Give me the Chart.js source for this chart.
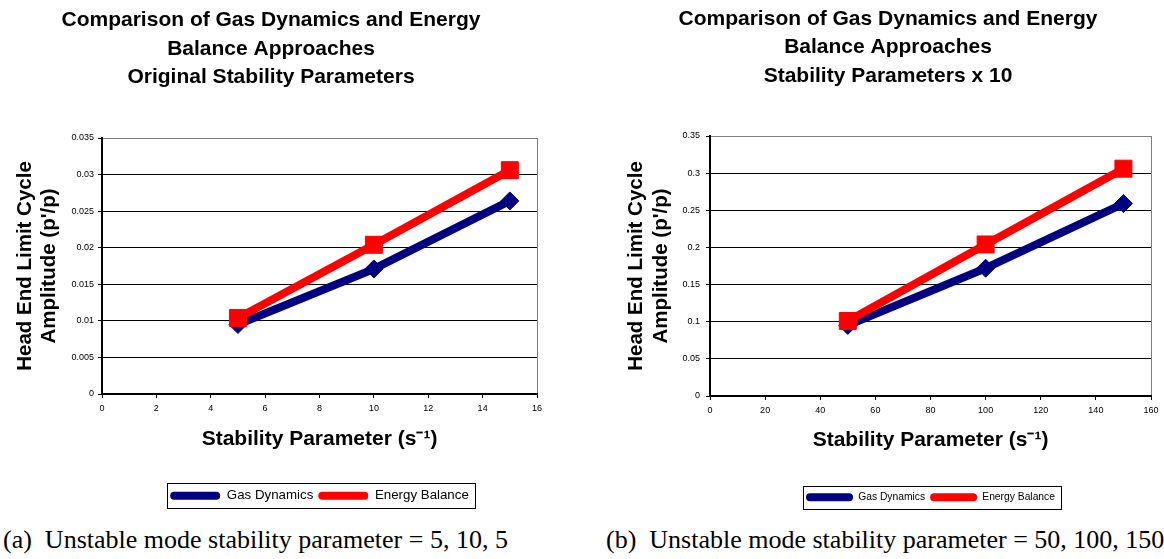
<!DOCTYPE html>
<html>
<head>
<meta charset="utf-8">
<script src="https://cdn.jsdelivr.net/npm/chart.js@4.4.0/dist/chart.umd.min.js"></script>
<style>
  body { margin: 0; background: #fff; width: 1164px; height: 559px; position: relative; overflow: hidden; }
  canvas { position: absolute; top: 0; }
  #chartA { left: 0; }
  #chartB { left: 624px; }
  .caption { position: absolute; top: 525px; font-family: "Liberation Serif", "Times New Roman", serif; font-size: 26px; line-height: 30px; color: #000; white-space: pre; }
</style>
</head>
<body>
<canvas id="chartA" width="550" height="520"></canvas>
<canvas id="chartB" width="540" height="520"></canvas>
<div class="caption" style="left:3px">(a)  Unstable mode stability parameter = 5, 10, 5</div>
<div class="caption" style="left:606px">(b)  Unstable mode stability parameter = 50, 100, 150</div>
<script>
// Original stability parameters
const origParams = [5, 10, 15];
const origGas = [0.0095, 0.0171, 0.0264];
const origEnergy = [0.0104, 0.0204, 0.0306];

// Stability parameters x 10
const scaledParams = [50, 100, 150];
const scaledGas = [0.095, 0.172, 0.259];
const scaledEnergy = [0.101, 0.204, 0.306];

const seriesNames = ["Gas Dynamics", "Energy Balance"];
const yTitle = ["Head End Limit Cycle", "Amplitude (p'/p)"];
const xTitle = "Stability Parameter (s\u207B\u00B9)";

Chart.defaults.font.family = "'Liberation Sans', Arial, sans-serif";
Chart.defaults.color = "#000";

// Excel style labels: no trailing zeros
const plainNumber = v => String(parseFloat(Number(v).toFixed(6)));

// box drawn round the legend, like the Excel legend frame
const legendFrame = {
  id: "legendFrame",
  afterDraw(chart, args, opts) {
    const boxes = chart.legend.legendHitBoxes;
    if (!boxes || !boxes.length) return;
    const left = Math.min(...boxes.map(b => b.left)) - 3;
    const right = Math.max(...boxes.map(b => b.left + b.width)) + 6;
    const mid = boxes[0].top + boxes[0].height / 2;
    const h = opts.height || 24;
    const ctx = chart.ctx;
    ctx.save();
    ctx.strokeStyle = "#000";
    ctx.lineWidth = 1;
    ctx.strokeRect(Math.round(left) + 0.5, Math.round(mid - h / 2) + 0.5, Math.round(right - left), h);
    ctx.restore();
  }
};

function pairs(xs, ys) {
  return xs.map((x, i) => ({ x: x, y: ys[i] }));
}

function makeChart(id, s) {
  const ctx = document.getElementById(id).getContext("2d");
  return new Chart(ctx, {
    type: "line",
    data: {
      datasets: [
        {
          label: seriesNames[0],
          data: pairs(s.params, s.gas),
          borderColor: "#000080",
          backgroundColor: "#000080",
          borderWidth: 8,
          borderJoinStyle: "round",
          pointStyle: "rectRot",
          pointRadius: 9,
          pointBorderWidth: 1,
          order: 1,
        },
        {
          label: seriesNames[1],
          data: pairs(s.params, s.energy),
          borderColor: "#ff0000",
          backgroundColor: "#ff0000",
          borderWidth: 8,
          borderJoinStyle: "round",
          pointStyle: "rect",
          pointRadius: 12,
          pointBorderWidth: 1,
          order: 0,
        },
      ],
    },
    options: {
      responsive: false,
      animation: false,
      events: [],
      layout: { padding: { left: 0, right: s.padRight, top: 0, bottom: s.padBottom } },
      plugins: {
        tooltip: { enabled: false },
        title: {
          display: true,
          text: s.title,
          color: "#000",
          font: { size: 21, weight: "bold", lineHeight: 1.35 },
          padding: { top: s.titleTop, bottom: s.titleBottom },
        },
        legend: {
          position: "bottom",
          fullSize: false,
          labels: {
            boxWidth: s.legendBox,
            boxHeight: 8,
            useBorderRadius: true,
            borderRadius: 4,
            padding: 5,
            color: "#000",
            font: { size: s.legendFont },
            sort: (a, b) => a.datasetIndex - b.datasetIndex,
            generateLabels(chart) {
              const items = Chart.defaults.plugins.legend.labels.generateLabels(chart);
              items.forEach(it => { it.lineWidth = 0; });
              return items;
            },
          },
        },
        legendFrame: { height: s.frameH },
      },
      scales: {
        x: {
          type: "linear",
          min: 0,
          max: s.xMax,
          ticks: { stepSize: s.xStep, font: { size: 9 }, color: "#000", padding: 5, callback: plainNumber },
          grid: {
            color: c => (c.index === c.scale.ticks.length - 1 ? "#808080" : "rgba(0,0,0,0)"),
            tickColor: "#000",
            tickLength: 4,
            lineWidth: 1,
          },
          border: { color: "#000", width: 2 },
          title: {
            display: true,
            text: xTitle,
            color: "#000",
            font: { size: 21, weight: "bold", lineHeight: 1.2 },
            padding: { top: 0, bottom: s.xTitlePad },
          },
          afterFit(scale) {
            scale.height = s.xHeight;
            scale.paddingLeft = 0;
            scale.paddingRight = 0;
          },
        },
        y: {
          min: 0,
          max: s.yMax,
          ticks: { stepSize: s.yStep, font: { size: 9 }, color: "#000", padding: s.yTickPad, callback: plainNumber },
          grid: {
            color: c => (c.index === c.scale.ticks.length - 1 ? "#808080" : "#000"),
            tickColor: "#000",
            tickLength: 4,
            lineWidth: 1,
          },
          border: { color: "#000", width: 2 },
          title: {
            display: true,
            text: yTitle,
            color: "#000",
            font: { size: 20.5, weight: "bold", lineHeight: 1.2 },
            padding: { top: s.yTitlePad, bottom: 0 },
          },
          afterFit(scale) {
            scale.width = s.yWidth;
          },
        },
      },
    },
    plugins: [legendFrame],
  });
}

makeChart("chartA", {
  params: origParams,
  gas: origGas,
  energy: origEnergy,
  title: ["Comparison of Gas Dynamics and Energy", "Balance Approaches", "Original Stability Parameters"],
  xMax: 16, xStep: 2,
  yMax: 0.035, yStep: 0.005,
  padRight: 8, padBottom: 7.7,
  titleTop: 6.5, titleBottom: 46.45,
  xHeight: 90, xTitlePad: 31.9,
  yWidth: 102, yTitlePad: 12.7, yTickPad: 4,
  legendBox: 50, legendFont: 13.3, frameH: 25,
});

makeChart("chartB", {
  params: scaledParams,
  gas: scaledGas,
  energy: scaledEnergy,
  title: ["Comparison of Gas Dynamics and Energy", "Balance Approaches", "Stability Parameters x 10"],
  xMax: 160, xStep: 20,
  yMax: 0.35, yStep: 0.05,
  padRight: 12, padBottom: 7.55,
  titleTop: 5.1, titleBottom: 45.85,
  xHeight: 91.15, xTitlePad: 34.55,
  yWidth: 86, yTitlePad: 0, yTickPad: 6,
  legendBox: 47, legendFont: 10.3, frameH: 23,
});
</script>
</body>
</html>
